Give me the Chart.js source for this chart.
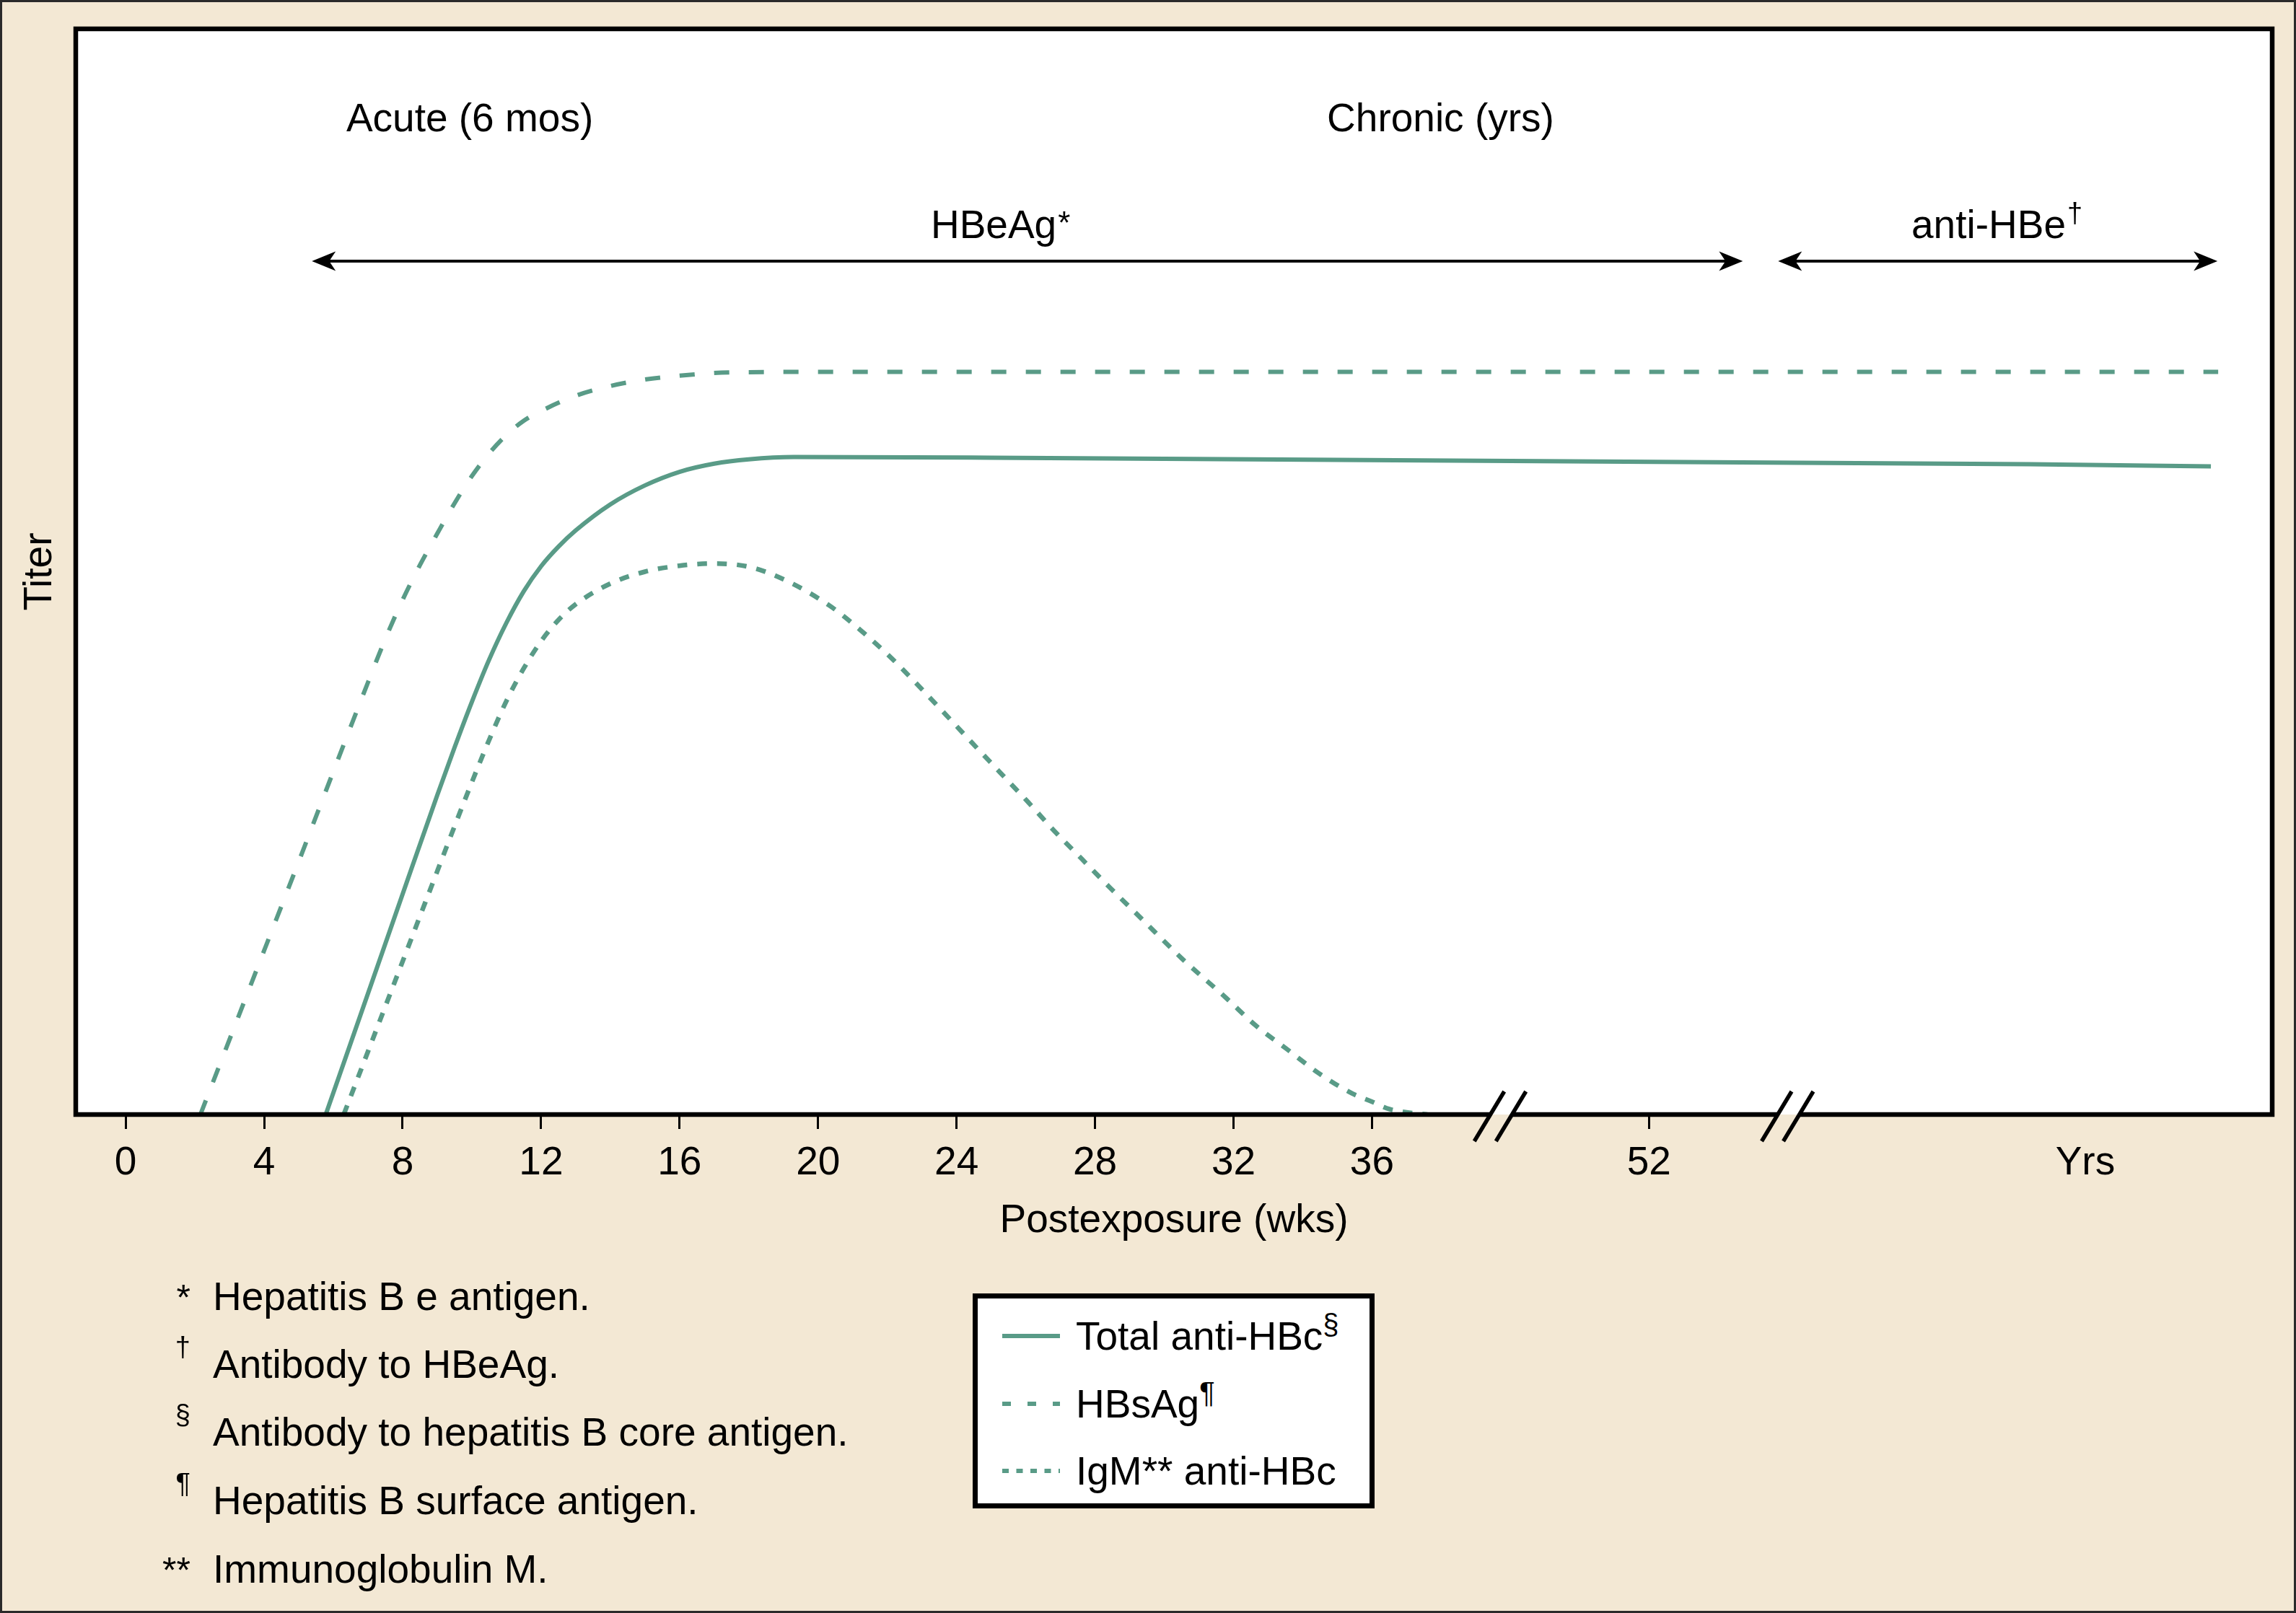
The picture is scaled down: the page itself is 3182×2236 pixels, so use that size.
<!DOCTYPE html>
<html><head><meta charset="utf-8">
<script src="https://cdn.jsdelivr.net/npm/chart.js@4.4.1/dist/chart.umd.min.js"></script>
<style>
html,body{margin:0;padding:0;background:#F3E8D4;}
#wrap{position:relative;width:3182px;height:2236px;overflow:hidden;background:#F3E8D4;font-family:'Liberation Sans',Arial,sans-serif;color:#000;}
#c{position:absolute;left:0;top:0;}
#frame{position:absolute;left:0;top:0;width:3182px;height:2236px;box-sizing:border-box;border:3px solid #2a2a2a;pointer-events:none;}
#legend{position:absolute;left:1348px;top:1793px;width:557px;height:298px;box-sizing:border-box;border:7px solid #000;background:#fff;}
.lrow{position:absolute;left:0;height:66px;width:100%;}
.lrow svg{position:absolute;left:34px;top:23px;}
.lrow .lt{position:absolute;left:136px;top:0;font-size:55px;line-height:66px;white-space:nowrap;}
.lsup{font-size:40px;position:relative;top:-21px;}
.note{position:absolute;left:0;height:66px;font-size:55px;line-height:66px;white-space:nowrap;}
.note .sym{display:inline-block;width:264px;text-align:right;}
.note .txt{margin-left:31px;}
.note .fs{font-size:38px;position:relative;top:-30px;}
.note .fa{font-size:50px;}
</style></head>
<body>
<div id="wrap">
  <canvas id="c" width="3182" height="2236"></canvas>
  <div id="legend"></div>
  <div id="notes"></div>
  <div id="frame"></div>
</div>
<script>
// ---------- data ----------
const tickPositions = [0, 4, 8, 12, 16, 20, 24, 28, 32, 36, 44, 56.6];
const tickLabels    = ['0', '4', '8', '12', '16', '20', '24', '28', '32', '36', '52', 'Yrs'];
const breakPositions = [39.7, 48];

const seriesNames = ['Total anti-HBc', 'HBsAg', 'IgM** anti-HBc'];
const seriesSups  = ['§', '¶', ''];

const totalX = [5.78, 7, 8, 9, 9.5, 10, 10.5, 11, 11.5, 12, 12.5, 13, 14, 15, 16, 17, 18, 19.3, 25, 35, 45, 55, 60.23];
const totalY = [0, 11.15, 20.3, 29.4, 33.8, 38.0, 41.9, 45.3, 48.2, 50.5, 52.3, 53.8, 56.2, 57.95, 59.2, 59.95, 60.35, 60.56, 60.5, 60.3, 60.1, 59.9, 59.7];

const hbsagX = [2.16, 3, 4, 5, 6, 7, 7.5, 8, 8.5, 9, 9.5, 10, 10.5, 11, 11.5, 12, 13, 14, 15, 16, 17, 18, 20, 30, 40, 50, 60.44];
const hbsagY = [0, 6.9, 15.1, 23.3, 31.6, 39.8, 43.8, 47.4, 50.6, 53.5, 56.3, 58.8, 60.9, 62.6, 63.9, 64.8, 66.2, 67.1, 67.7, 68.05, 68.3, 68.38, 68.4, 68.4, 68.4, 68.4, 68.4];

const igmX = [6.3, 7, 8, 9, 9.5, 10, 10.5, 11, 11.5, 12, 12.5, 13, 14, 15, 16, 17, 18, 19, 20.32, 21.23, 22.1, 22.9, 23.7, 24.46, 25.26, 26.06, 26.83, 27.63, 28.43, 29.26, 30.5, 31.8, 32.64, 33.54, 34.45, 35.42, 36, 36.5, 37, 37.6];
const igmY = [0, 5.8, 14.1, 22.4, 26.55, 30.6, 34.5, 38.1, 41.1, 43.6, 45.55, 47.0, 48.9, 50.0, 50.55, 50.75, 50.45, 49.3, 46.9, 44.6, 42.1, 39.5, 36.8, 34.2, 31.5, 28.8, 26.1, 23.5, 20.9, 18.3, 14.4, 10.7, 8.2, 6.03, 3.83, 1.95, 1.18, 0.5, 0.2, 0];

const phaseLabels = ['Acute (6 mos)', 'Chronic (yrs)'];
const markerLabels = ['HBeAg', 'anti-HBe'];
const markerSups = ['*', '†'];

const footSymbols = ['*', '†', '§', '¶', '**'];
const footTexts = ['Hepatitis B e antigen.', 'Antibody to HBeAg.', 'Antibody to hepatitis B core antigen.', 'Hepatitis B surface antigen.', 'Immunoglobulin M.'];

// ---------- layout / style constants ----------
const TEAL = '#599B87';
const BEIGE = '#F3E8D4';
const FONT = '"Liberation Sans", Arial, sans-serif';
const phaseCenters = [9.94, 37.98];
const phaseY = 90.56;
const markerCenters = [25.27, 54.05];
const markerY = 80.73;
const arrowSpans = [[5.38, 46.71], [47.73, 60.42]];
const arrowY = 78.6;
const plotDash = [[], [21, 27], [13.5, 14]];
const legendDash = [[], [12, 23], [9, 10.5]];

const pts = (xs, ys) => xs.map((x, i) => ({x: x, y: ys[i]}));

Chart.defaults.font.family = FONT;
Chart.defaults.color = '#000';

function supText(ctx, base, sup, cx, by, supSize, raise) {
  ctx.font = '55px ' + FONT; const w1 = ctx.measureText(base).width;
  ctx.font = supSize + 'px ' + FONT; const w2 = ctx.measureText(sup).width;
  const x0 = cx - (w1 + w2 + 2) / 2;
  ctx.textAlign = 'left'; ctx.textBaseline = 'alphabetic'; ctx.fillStyle = '#000';
  ctx.font = '55px ' + FONT; ctx.fillText(base, x0, by);
  ctx.font = supSize + 'px ' + FONT; ctx.fillText(sup, x0 + w1 + 2, by - raise);
}
function head(ctx, tx, ty, dir) {
  ctx.beginPath();
  ctx.moveTo(tx, ty);
  ctx.lineTo(tx + dir * 33, ty - 13.5);
  ctx.lineTo(tx + dir * 24, ty);
  ctx.lineTo(tx + dir * 33, ty + 13.5);
  ctx.closePath(); ctx.fill();
}

const framePlugin = {
  id: 'frame',
  beforeDraw(chart) {
    const {ctx, chartArea: a} = chart;
    ctx.save(); ctx.fillStyle = '#fff';
    ctx.fillRect(a.left, a.top, a.right - a.left, a.bottom - a.top);
    ctx.restore();
  },
  afterDatasetsDraw(chart) {
    const {ctx, chartArea: a, scales: {x, y}} = chart;
    ctx.save();
    ctx.strokeStyle = '#000'; ctx.lineWidth = 6.5; ctx.setLineDash([]);
    ctx.strokeRect(a.left, a.top, a.right - a.left, a.bottom - a.top);
    // axis breaks
    breakPositions.forEach(b => {
      const cx = x.getPixelForValue(b), cy = a.bottom + 2.5;
      const h = 34.5, w = 20.75, o = 15;
      ctx.save();
      ctx.beginPath();
      ctx.moveTo(cx - o - w, cy + h); ctx.lineTo(cx - o + w, cy - h);
      ctx.lineTo(cx + o + w, cy - h); ctx.lineTo(cx + o - w, cy + h);
      ctx.closePath(); ctx.clip();
      ctx.fillStyle = '#fff'; ctx.fillRect(cx - 80, a.bottom - 6, 160, 6);
      ctx.fillStyle = BEIGE; ctx.fillRect(cx - 80, a.bottom, 160, 6);
      ctx.restore();
      ctx.strokeStyle = '#000'; ctx.lineWidth = 5.5; ctx.lineCap = 'butt';
      [-o, o].forEach(d => {
        ctx.beginPath(); ctx.moveTo(cx + d - w, cy + h); ctx.lineTo(cx + d + w, cy - h); ctx.stroke();
      });
    });
    // phase labels
    ctx.fillStyle = '#000'; ctx.textAlign = 'center'; ctx.textBaseline = 'alphabetic';
    ctx.font = '55px ' + FONT;
    phaseLabels.forEach((t, i) => ctx.fillText(t, x.getPixelForValue(phaseCenters[i]), y.getPixelForValue(phaseY)));
    // marker labels with superscripts
    supText(ctx, markerLabels[0], markerSups[0], x.getPixelForValue(markerCenters[0]), y.getPixelForValue(markerY), 44, 6);
    supText(ctx, markerLabels[1], markerSups[1], x.getPixelForValue(markerCenters[1]), y.getPixelForValue(markerY), 38, 22);
    // arrows
    ctx.strokeStyle = '#000'; ctx.fillStyle = '#000'; ctx.lineWidth = 4;
    arrowSpans.forEach(s => {
      const x1 = x.getPixelForValue(s[0]), x2 = x.getPixelForValue(s[1]), yy = y.getPixelForValue(arrowY);
      ctx.beginPath(); ctx.moveTo(x1 + 20, yy); ctx.lineTo(x2 - 20, yy); ctx.stroke();
      head(ctx, x1, yy, 1); head(ctx, x2, yy, -1);
    });
    ctx.restore();
  }
};

const chart = new Chart(document.getElementById('c'), {
  type: 'line',
  data: {
    datasets: [
      {label: seriesNames[0] + seriesSups[0], data: pts(totalX, totalY), borderColor: TEAL, borderWidth: 6, borderDash: plotDash[0]},
      {label: seriesNames[1] + seriesSups[1], data: pts(hbsagX, hbsagY), borderColor: TEAL, borderWidth: 6, borderDash: plotDash[1]},
      {label: seriesNames[2] + seriesSups[2], data: pts(igmX, igmY), borderColor: TEAL, borderWidth: 6.5, borderDash: plotDash[2]}
    ]
  },
  options: {
    responsive: false,
    devicePixelRatio: 1,
    animation: false,
    layout: {padding: {left: 0, top: 40, right: 33, bottom: 491}},
    elements: {point: {radius: 0}, line: {cubicInterpolationMode: 'monotone', fill: false, borderCapStyle: 'butt'}},
    plugins: {legend: {display: false}, tooltip: {enabled: false}},
    scales: {
      x: {
        type: 'linear', min: -1.44, max: 62.0,
        afterBuildTicks: s => { s.ticks = tickPositions.map(v => ({value: v})); },
        afterFit: s => { s.height = 200; },
        ticks: {autoSkip: false, maxRotation: 0, minRotation: 0, padding: 15, font: {size: 55}, color: '#000',
                callback: (v, i) => tickLabels[i]},
        grid: {display: true, drawOnChartArea: false, drawTicks: true, tickLength: 20, tickWidth: 3, lineWidth: 3,
               tickColor: c => (tickLabels[c.index] === 'Yrs' ? 'rgba(0,0,0,0)' : '#000')},
        border: {display: false},
        title: {display: true, text: 'Postexposure (wks)', font: {size: 55}, color: '#000', padding: {top: 0, bottom: 19}}
      },
      y: {
        min: 0, max: 100,
        afterFit: s => { s.width = 105; },
        ticks: {display: false},
        grid: {display: false},
        border: {display: false},
        title: {display: true, text: 'Titer', font: {size: 55}, color: '#000', padding: {top: 23, bottom: 0}}
      }
    }
  },
  plugins: [framePlugin]
});

// ---------- HTML legend built from datasets ----------
(function buildLegend() {
  const box = document.getElementById('legend');
  const rowCenters = [52, 145.5, 239];
  chart.data.datasets.forEach((ds, i) => {
    const row = document.createElement('div');
    row.className = 'lrow';
    row.style.top = (rowCenters[i] - 33) + 'px';
    const dash = legendDash[i].length ? legendDash[i].join(' ') : 'none';
    row.innerHTML =
      '<svg width="80" height="20"><line x1="0" y1="10" x2="80" y2="10" stroke="' + ds.borderColor +
      '" stroke-width="6" stroke-dasharray="' + dash + '"/></svg>' +
      '<span class="lt">' + seriesNames[i] + (seriesSups[i] ? '<span class="lsup">' + seriesSups[i] + '</span>' : '') + '</span>';
    box.appendChild(row);
  });
})();

// ---------- footnotes ----------
(function buildNotes() {
  const wrap = document.getElementById('notes');
  const baselines = [1816, 1910, 2004, 2099, 2194];
  footSymbols.forEach((s, i) => {
    const row = document.createElement('div');
    row.className = 'note';
    row.style.top = (baselines[i] - 52) + 'px';
    const cls = (s === '*' || s === '**') ? 'fa' : 'fs';
    row.innerHTML = '<span class="sym"><span class="' + cls + '">' + s + '</span></span><span class="txt">' + footTexts[i] + '</span>';
    wrap.appendChild(row);
  });
})();
</script>
</body></html>
